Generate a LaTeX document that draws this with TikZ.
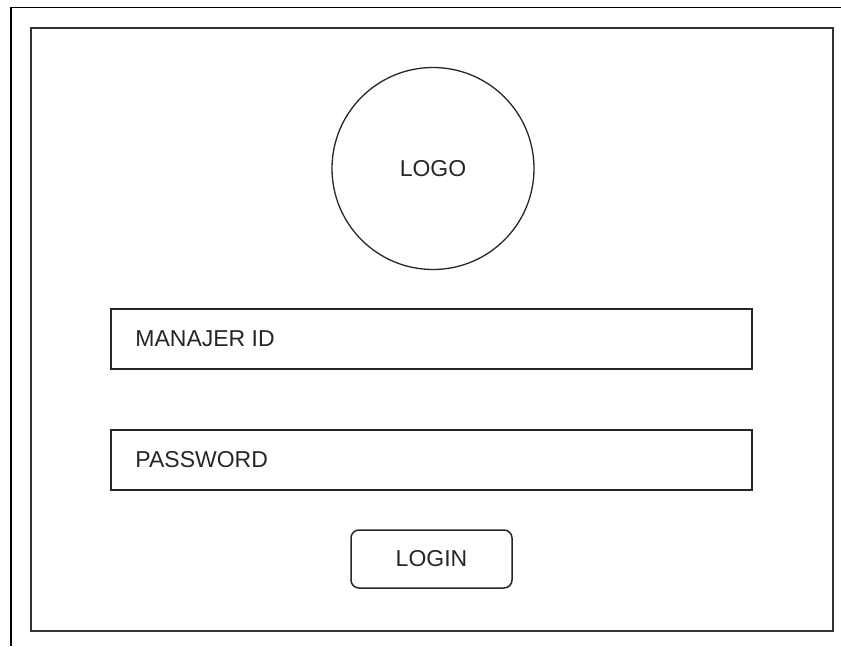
\documentclass[tikz,border=0pt]{standalone}
\usepackage{fontspec}
\setmainfont{Liberation Sans}
\begin{document}
\begin{tikzpicture}[x=1pt,y=-1pt,
  frame/.style={draw=black!80, line width=1.6pt},
  field/.style={draw=black!85, line width=1.5pt, rectangle, minimum width=641pt, minimum height=60pt, inner sep=0pt},
  lbl/.style={font=\fontsize{23}{26}\selectfont, text=black!85},
]
\useasboundingbox (0,0) rectangle (841,646);
\coordinate (tl) at (11,7.5);
\coordinate (tr) at (841,7.5);
\coordinate (bl) at (11,646);
\draw[line width=1.6pt] (tr) -- (tl) -- (bl);
\node[frame, rectangle, minimum width=802pt, minimum height=603pt, inner sep=0pt] (page) at (432,329.5) {};
\node[draw=black!85, line width=1.3pt, circle, minimum size=202pt, inner sep=0pt] (logo) at (433,168.5) {};
\node[lbl] (logotxt) at (logo.center) {LOGO};
\node[field] (id) at (431.5,339) {};
\node[lbl, anchor=west, inner sep=0pt] (idtxt) at ([xshift=25pt]id.west) {MANAJER ID};
\node[field] (pw) at (431.5,460) {};
\node[lbl, anchor=west, inner sep=0pt] (pwtxt) at ([xshift=25pt]pw.west) {PASSWORD};
\node[draw=black!85, line width=1.5pt, rectangle, rounded corners=8pt, minimum width=161pt, minimum height=58pt, inner sep=0pt, lbl] (login) at (431.5,559) {LOGIN};
\end{tikzpicture}
\end{document}
